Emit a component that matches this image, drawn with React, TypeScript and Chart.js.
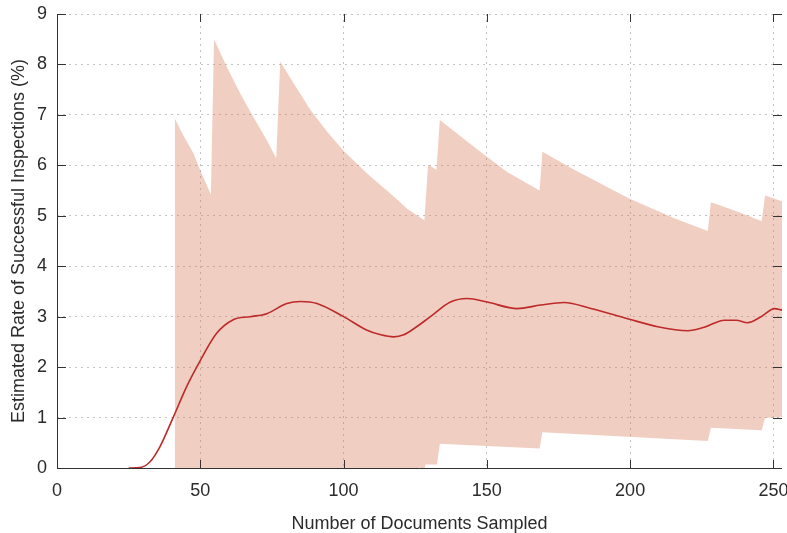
import React, { useEffect, useRef } from "react";
import { Chart, registerables } from "chart.js";

Chart.register(...registerables);

const xTicks = [0, 50, 100, 150, 200, 250];
const yTicks = [0, 1, 2, 3, 4, 5, 6, 7, 8, 9];

const meanX = [25, 29, 32.4, 35.9, 40.6, 45.2, 49.9, 55.7, 61.5, 67.4, 73.2, 80.2, 85, 90.7, 100, 108.2, 113, 117.5, 121, 124.5, 130.3, 137.3, 143.2, 150.1, 160.6, 168.8, 177, 186.3, 199.1, 209.6, 220.1, 225.9, 232.9, 237, 241, 245.7, 250.4, 253];
const meanY = [0, 0.01, 0.12, 0.42, 1.01, 1.61, 2.12, 2.67, 2.94, 3.0, 3.06, 3.26, 3.3, 3.26, 3.0, 2.73, 2.64, 2.6, 2.64, 2.76, 3.0, 3.29, 3.36, 3.29, 3.16, 3.23, 3.28, 3.16, 2.96, 2.8, 2.72, 2.79, 2.93, 2.93, 2.88, 3.0, 3.16, 3.13];

const upperX = [41.1, 44, 47.6, 49.9, 53.7, 54.8, 59.2, 63.9, 68.5, 73.2, 76.5, 77.9, 82.5, 88.4, 94.2, 100, 108.2, 117.5, 122.2, 128.2, 129.5, 132.4, 133.6, 139.6, 149.3, 157.1, 168.4, 169.4, 180.5, 199.3, 215.4, 227.1, 228.2, 237.6, 245.9, 247.1, 253];
const upperY = [6.93, 6.6, 6.24, 5.91, 5.42, 8.5, 7.96, 7.43, 6.96, 6.5, 6.14, 8.06, 7.63, 7.1, 6.67, 6.29, 5.84, 5.38, 5.14, 4.91, 6.01, 5.91, 6.9, 6.63, 6.2, 5.87, 5.5, 6.27, 5.91, 5.35, 4.95, 4.7, 5.27, 5.08, 4.89, 5.4, 5.29];

const lowerX = [41.1, 128.3, 128.6, 132.6, 133.6, 168.4, 169.4, 227.1, 228.2, 245.9, 247.1, 253];
const lowerY = [0, 0, 0.07, 0.07, 0.48, 0.385, 0.71, 0.535, 0.8, 0.75, 0.99, 1.01];

const xTitle = "Number of Documents Sampled";
const yTitle = "Estimated Rate of Successful Inspections (%)";

const toPts = (xs: number[], ys: number[]) => xs.map((x, i) => ({ x, y: ys[i] }));

const FONT = "'Liberation Sans', Arial, sans-serif";
const TEXT = "#2b2b2b";

const axisPlugin = {
  id: "axisTicks",
  afterDatasetsDraw(chart: any) {
    const { ctx, chartArea, scales } = chart;
    const { left, right, top, bottom } = chartArea;
    const x = scales.x;
    const y = scales.y;
    ctx.save();
    ctx.strokeStyle = "#333333";
    ctx.lineWidth = 1;
    ctx.beginPath();
    const L = Math.round(left) + 0.5;
    const B = Math.round(bottom) + 0.5;
    ctx.moveTo(L, top);
    ctx.lineTo(L, B);
    ctx.lineTo(right, B);
    x.ticks.forEach((t: any) => {
      const px = Math.round(x.getPixelForValue(t.value)) + 0.5;
      ctx.moveTo(px, bottom);
      ctx.lineTo(px, bottom - 8);
      ctx.moveTo(px, top);
      ctx.lineTo(px, top + 8);
    });
    y.ticks.forEach((t: any) => {
      const py = Math.round(y.getPixelForValue(t.value)) + 0.5;
      ctx.moveTo(left, py);
      ctx.lineTo(left + 9, py);
      ctx.moveTo(right, py);
      ctx.lineTo(right - 9, py);
    });
    ctx.stroke();
    ctx.restore();
  },
};

export default function App() {
  const ref = useRef<HTMLCanvasElement | null>(null);

  useEffect(() => {
    if (!ref.current) return;
    const chart = new Chart(ref.current, {
      type: "line",
      data: {
        datasets: [
          {
            label: "Estimate",
            data: toPts(meanX, meanY),
            borderColor: "#bd2a2a",
            borderWidth: 1.6,
            pointRadius: 0,
            fill: false,
            cubicInterpolationMode: "monotone",
          },
          {
            label: "Upper",
            data: toPts(upperX, upperY),
            borderWidth: 0,
            borderColor: "rgba(0,0,0,0)",
            pointRadius: 0,
            tension: 0,
            fill: "+1",
            backgroundColor: "rgba(215,120,85,0.36)",
          },
          {
            label: "Lower",
            data: toPts(lowerX, lowerY),
            borderWidth: 0,
            borderColor: "rgba(0,0,0,0)",
            pointRadius: 0,
            tension: 0,
            fill: false,
          },
        ],
      } as any,
      options: {
        responsive: false,
        animation: false,
        events: [],
        layout: { padding: { left: 0, right: 5, top: 14, bottom: 0 } },
        plugins: {
          legend: { display: false },
          tooltip: { enabled: false },
        },
        scales: {
          x: {
            type: "linear",
            min: 0,
            max: 253,
            afterBuildTicks: (s: any) => {
              s.ticks = xTicks.map((v) => ({ value: v }));
            },
            afterFit: (s: any) => {
              s.height = 65;
              s.paddingLeft = 0;
              s.paddingRight = 0;
            },
            grid: { color: "#c4c4c4", lineWidth: 1, drawTicks: false },
            border: { display: false, dash: [2, 4] },
            ticks: {
              padding: 12,
              color: TEXT,
              font: { family: FONT, size: 18 },
              maxRotation: 0,
            },
            title: {
              display: true,
              text: xTitle,
              color: TEXT,
              font: { family: FONT, size: 18, lineHeight: 1 },
              padding: { top: 0, bottom: 0 },
            },
          },
          y: {
            type: "linear",
            min: 0,
            max: 9,
            afterBuildTicks: (s: any) => {
              s.ticks = yTicks.map((v) => ({ value: v }));
            },
            afterFit: (s: any) => {
              s.width = 57;
              s.paddingTop = 0;
              s.paddingBottom = 0;
            },
            grid: { color: "#c4c4c4", lineWidth: 1, drawTicks: false },
            border: { display: false, dash: [2, 4] },
            ticks: {
              padding: 10,
              color: TEXT,
              font: { family: FONT, size: 18 },
            },
            title: {
              display: true,
              text: yTitle,
              color: TEXT,
              font: { family: FONT, size: 18, lineHeight: 1.2 },
              padding: { top: 8, bottom: 0 },
            },
          },
        },
      } as any,
      plugins: [axisPlugin],
    });
    return () => chart.destroy();
  }, []);

  return (
    <div style={{ position: "fixed", left: 0, top: 0, width: 787, height: 533, background: "#fff" }}>
      <canvas ref={ref} width={787} height={533} style={{ display: "block", width: 787, height: 533 }} />
    </div>
  );
}
